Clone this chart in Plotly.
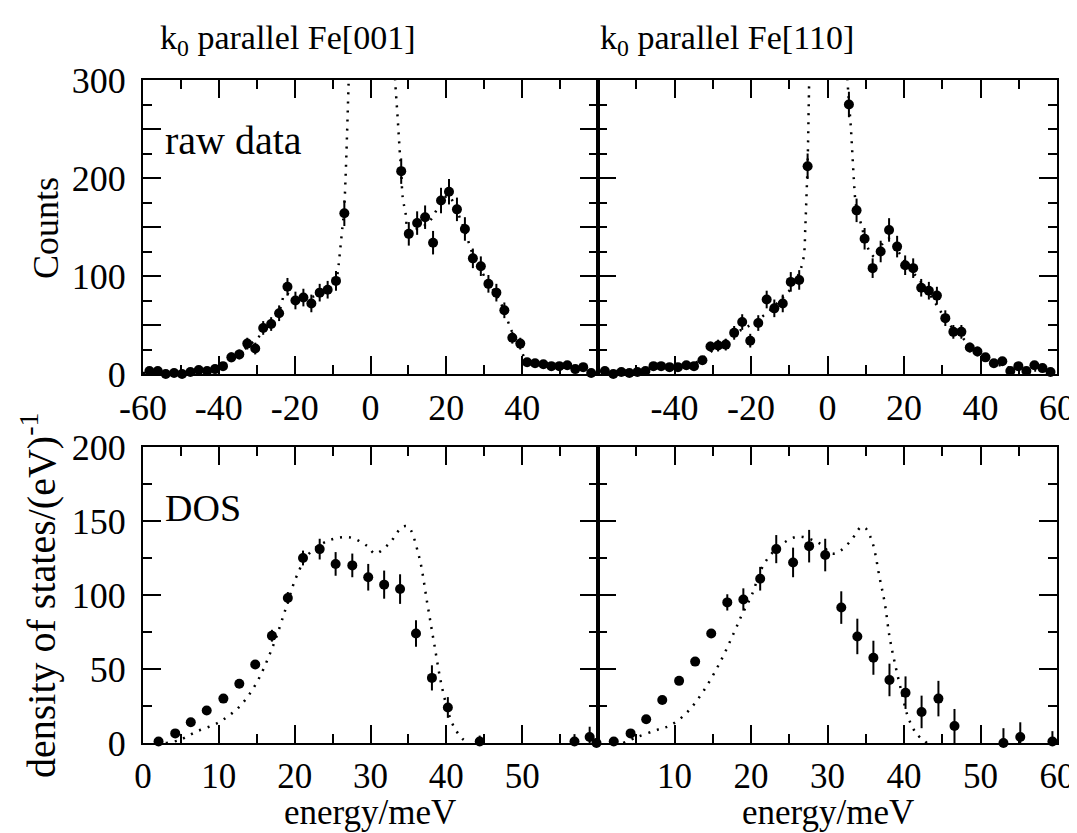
import plotly.graph_objects as go

# ---------------- data: raw counts, k0 || Fe[001] ----------------
raw001_e = [-58.3, -56.1, -54.0, -51.8, -49.7, -47.5, -45.3, -43.1, -41.0, -38.9, -36.7, -34.6,
            -32.5, -30.4, -28.3, -26.2, -24.1, -21.9, -19.8, -17.7, -15.6, -13.4, -11.3, -9.1, -6.9,
            8.1, 10.1, 12.3, 14.4, 16.5, 18.6, 20.7, 22.8, 24.9, 27.0, 29.1, 31.1, 33.2, 35.3,
            37.4, 39.5, 41.3, 43.4, 45.6, 47.7, 49.8, 51.9, 54.0, 56.1, 58.2]
raw001_c = [3, 3, 0, 1, 0, 2, 4, 3, 5, 8, 17, 20, 31, 26, 47, 51, 62, 89, 75, 78, 72, 83, 86, 95, 164,
            207, 143, 154, 160, 134, 177, 186, 168, 148, 118, 110, 92, 83, 65, 37, 31,
            12, 11, 10, 8, 8, 9, 5, 7, 1]
raw001_err = [3, 3, 3, 3, 3, 3, 3, 3, 3, 4, 5, 5, 6, 6, 7, 7, 8, 9, 9, 9, 9, 9, 9, 10, 13,
              13, 12, 12, 12, 12, 13, 13, 12, 12, 10, 10, 9, 9, 8, 6, 6, 3, 3, 3, 3, 3, 3, 3, 3, 3]
fit001_left_e = [-60, -55, -50, -45, -42, -39, -36, -33, -30, -27, -24, -22.5, -21, -19, -16, -13,
                 -11, -9.1, -8.6, -8.2, -7.4, -7.0, -6.6, -6.2, -5.8, -5.6]
fit001_left_c = [1, 1, 2, 3, 5, 9, 17, 26, 36, 48, 65, 82, 80, 76, 78, 82, 88, 95, 105, 119, 150,
                 165, 198, 243, 294, 320]
fit001_right_e = [6.3, 6.5, 7.2, 7.7, 8.1, 8.5, 9.3, 9.9, 11, 13, 14.5, 16, 17.5, 19, 20.5, 22,
                  23.5, 25, 27, 29, 31, 33, 35, 37, 38.5, 40, 41, 43, 46, 50, 54, 60]
fit001_right_c = [320, 300, 259, 228, 207, 180, 163, 146, 145, 150, 152, 158, 168, 178, 182, 174,
                  160, 145, 122, 107, 93, 82, 67, 46, 34, 22, 13, 10, 9, 7, 5, 2]

# ---------------- data: raw counts, k0 || Fe[110] ----------------
raw110_e = [-58.2, -56.0, -53.9, -51.8, -49.7, -47.6, -45.5, -43.5, -41.3, -39.1, -36.9, -34.9,
            -32.7, -30.6, -28.6, -26.6, -24.4, -22.3, -20.2, -18.1, -15.9, -13.9, -11.7, -9.6,
            -7.4, -5.2,
            5.6, 7.6, 9.7, 11.8, 13.9, 16.1, 18.2, 20.3, 22.4, 24.5, 26.5, 28.6, 30.8, 32.9, 35.0,
            37.2, 39.2, 41.3, 43.5, 45.7, 47.8, 49.9, 52.0, 54.1, 56.2, 58.3]
raw110_c = [3, 0, 2, 1, 2, 3, 8, 8, 7, 7, 9, 8, 14, 28, 29, 30, 42, 53, 34, 52, 76, 67, 72, 94, 96,
            212,
            275, 167, 138, 108, 125, 147, 130, 111, 108, 88, 85, 80, 57, 43, 43, 27, 23, 17, 11,
            13, 3, 8, 3, 9, 6, 2]
raw110_err = [3, 3, 3, 3, 3, 3, 3, 3, 3, 3, 3, 3, 4, 5, 6, 6, 7, 8, 7, 8, 9, 9, 9, 10, 10, 13,
              13, 12, 11, 10, 11, 12, 11, 10, 10, 9, 9, 9, 8, 7, 7, 5, 5, 4, 3, 3, 3, 3, 3, 3, 3, 3]
fit110_left_e = [-60, -55, -50, -45, -40, -36, -33, -30, -27, -24, -21, -18, -15, -12, -10, -8,
                 -7.1, -6.2, -5.8, -5.5, -5.2, -4.9, -4.7]
fit110_left_c = [2, 3, 4, 5, 6, 9, 15, 24, 33, 42, 48, 56, 65, 77, 85, 98, 106, 120, 150, 181,
                 215, 276, 320]
fit110_right_e = [5.0, 5.3, 5.6, 6.1, 6.5, 6.9, 7.4, 8.7, 10.9, 12.6, 14.4, 16.1, 19.2, 21.8, 24.0,
                  27.1, 29.7, 32.4, 35.0, 37.6, 40.3, 43.4, 50, 60]
fit110_right_c = [320, 295, 278, 252, 225, 198, 174, 154, 126, 119, 133, 138, 121, 106, 96, 79, 63,
                  48, 38, 28, 18, 11, 5, 3]

# ---------------- data: density of states, Fe[001] ----------------
dos001_e = [2.05, 4.25, 6.3, 8.4, 10.6, 12.7, 14.8, 17.0, 19.1, 21.1, 23.3, 25.4, 27.6, 29.7, 31.8,
            33.9, 36.0, 38.1, 40.2, 44.4, 56.9, 58.9, 59.8]
dos001_g = [1, 6.5, 14, 22, 30, 40, 53, 72.5, 98, 125, 131, 121, 120, 112, 107, 104, 74, 44, 24, 1,
            1, 4, 0]
dos001_err = [1, 1, 1, 1, 1, 2, 2, 4, 4, 5, 7, 8, 8, 9, 9.5, 10, 9, 8.5, 7, 4, 5, 7, 3]
dosfit001_e = [3, 4.8, 7, 10, 12.7, 14.9, 17.1, 18.9, 20.2, 21.9, 24.6, 27.2, 29.6, 30.6, 32.5, 34.2,
               35, 36.4, 37.5, 38.4, 39.5, 40.8, 42.1, 43]
dosfit001_g = [0, 2, 7.6, 14, 24.5, 40, 65, 92, 112, 128, 137, 139, 133, 128, 135, 146, 146, 126,
               94, 67, 36, 13, 3, 0]

# ---------------- data: density of states, Fe[110] ----------------
dos110_e = [2.06, 4.26, 6.3, 8.4, 10.6, 12.7, 14.8, 16.9, 19.0, 21.2, 23.3, 25.5, 27.6, 29.7, 31.8,
            33.9, 36.0, 38.1, 40.2, 42.3, 44.5, 46.6, 53.0, 55.2, 59.4]
dos110_g = [1, 6.5, 16, 29, 42, 55, 74, 95, 97, 111, 131, 122, 133, 127, 91.5, 72, 57.6, 42.6, 34,
            21, 30, 11.5, 0, 4, 1]
dos110_err = [1, 1, 1, 1, 1, 2, 3, 5.5, 7.5, 8, 9.5, 10, 11, 11, 11, 12, 11.5, 11, 11, 11, 12, 11.5,
              10, 10, 7]
dosfit110_e = [3.3, 5.1, 7.8, 9.5, 11.7, 13.9, 16.1, 17.9, 18.8, 20.1, 21.4, 22.7, 24.5, 26.3, 28.9,
               30.6, 31.7, 33.1, 34.4, 35.0, 35.9, 36.8, 37.5, 38.1, 38.8, 39.7, 40.5, 41.6, 43]
dosfit110_g = [0, 4, 9, 12, 21, 36, 56, 76, 86.5, 100, 118, 128, 136, 139.5, 135, 128, 130, 137, 146,
               145, 135, 112, 94, 72, 54, 34, 18, 6.5, 0]

# ---------------- tick labels ----------------
top_left_x_vals = [-60, -40, -20, 0, 20, 40]
top_left_x_text = ["-60", "-40", "-20", "0", "20", "40"]
top_right_x_vals = [-40, -20, 0, 20, 40, 60]
top_right_x_text = ["-40", "-20", "0", "20", "40", "60"]
top_y_vals = [0, 50, 100, 150, 200, 250, 300]
top_y_text = ["0", "", "100", "", "200", "", "300"]
bot_left_x_vals = [0, 10, 20, 30, 40, 50]
bot_left_x_text = ["0", "10", "20", "30", "40", "50"]
bot_right_x_vals = [10, 20, 30, 40, 50, 60]
bot_right_x_text = ["10", "20", "30", "40", "50", "60"]
bot_y_vals = [0, 50, 100, 150, 200]
bot_y_text = ["0", "50", "100", "150", "200"]

FONT = "Liberation Serif"
BLACK = "black"

fig = go.Figure()


def add_points(x, y, err, xa, ya):
    fig.add_trace(go.Scatter(
        x=x, y=y, mode="markers", xaxis=xa, yaxis=ya, cliponaxis=False,
        marker=dict(color=BLACK, size=10),
        error_y=dict(type="data", array=err, visible=True, width=0, thickness=2, color=BLACK),
        showlegend=False, hoverinfo="skip"))


def add_curve(x, y, xa, ya):
    fig.add_trace(go.Scatter(
        x=x, y=y, mode="lines", xaxis=xa, yaxis=ya, line_shape="spline",
        line=dict(color=BLACK, width=2.5, dash="2px,7px"),
        showlegend=False, hoverinfo="skip"))


add_curve(fit001_left_e, fit001_left_c, "x", "y")
add_curve(fit001_right_e, fit001_right_c, "x", "y")
add_points(raw001_e, raw001_c, raw001_err, "x", "y")

add_curve(fit110_left_e, fit110_left_c, "x2", "y2")
add_curve(fit110_right_e, fit110_right_c, "x2", "y2")
add_points(raw110_e, raw110_c, raw110_err, "x2", "y2")

add_curve(dosfit001_e, dosfit001_g, "x3", "y3")
add_points(dos001_e, dos001_g, dos001_err, "x3", "y3")

add_curve(dosfit110_e, dosfit110_g, "x4", "y4")
add_points(dos110_e, dos110_g, dos110_err, "x4", "y4")

# the page body adds an 8px offset; size and place everything in page pixels
OFF = 8
W, H = 1077 - OFF, 833 - OFF


def px_x(p):
    return (p - OFF) / W


def px_y(p):
    return 1 - (p - OFF) / H


xl = [px_x(143), px_x(598)]
xr = [px_x(598), px_x(1057)]
yt = [px_y(374), px_y(80)]
yb = [px_y(743), px_y(447)]


def axis(domain, rng, vals, text, minor_dt, anchor, show_labels=True, label_size=36):
    return dict(
        domain=domain, range=rng, anchor=anchor, automargin=False,
        showgrid=False, zeroline=False,
        showline=True, linecolor=BLACK, linewidth=2, mirror="allticks",
        ticks="inside", ticklen=18, tickwidth=2, tickcolor=BLACK,
        tickmode="array", tickvals=vals, ticktext=text,
        showticklabels=show_labels,
        tickfont=dict(family=FONT, size=label_size, color=BLACK),
        minor=dict(tickmode="linear", tick0=0, dtick=minor_dt, ticks="inside",
                   ticklen=9, tickwidth=2, tickcolor=BLACK, showgrid=False),
    )


fig.update_layout(
    template="none",
    width=W, height=H, autosize=False,
    margin=dict(l=0, r=0, t=0, b=0, pad=0),
    paper_bgcolor="white", plot_bgcolor="white",
    font=dict(family=FONT, size=36, color=BLACK),
    xaxis=axis(xl, [-60, 60], top_left_x_vals, top_left_x_text, 10, "y"),
    yaxis=axis(yt, [0, 300], top_y_vals, top_y_text, 25, "x"),
    xaxis2=axis(xr, [-60, 60], top_right_x_vals, top_right_x_text, 10, "y2"),
    yaxis2=axis(yt, [0, 300], top_y_vals, top_y_text, 25, "x2", show_labels=False),
    xaxis3=axis(xl, [0, 60], bot_left_x_vals, bot_left_x_text, 5, "y3", label_size=35),
    yaxis3=axis(yb, [0, 200], bot_y_vals, bot_y_text, 25, "x3"),
    xaxis4=axis(xr, [0, 60], bot_right_x_vals, bot_right_x_text, 5, "y4", label_size=35),
    yaxis4=axis(yb, [0, 200], bot_y_vals, bot_y_text, 25, "x4", show_labels=False),
)

for ax in ["yaxis", "yaxis3"]:
    fig.layout[ax].ticklabelstandoff = 8
for ax in ["xaxis", "xaxis2", "xaxis3", "xaxis4"]:
    fig.layout[ax].ticklabelstandoff = 1


def note(text, x, y, xanchor="left", yanchor="middle", angle=0, size=36):
    fig.add_annotation(text=text, x=px_x(x), y=px_y(y), xref="paper", yref="paper",
                       xanchor=xanchor, yanchor=yanchor, textangle=angle, showarrow=False,
                       font=dict(family=FONT, size=size, color=BLACK))


note("k<sub>0</sub> parallel Fe[001]", 158, 40, size=34)
note("k<sub>0</sub> parallel Fe[110]", 598, 40, size=34)
note("raw data", 163, 140, size=40)
note("DOS", 163, 508, size=38)
note("Counts", 46, 228, xanchor="center", angle=-90)
note("density of states/(eV)<sup>-1</sup>", 38, 596, xanchor="center", angle=-90, size=40)
note("energy/meV", 370, 812, xanchor="center", size=35)
note("energy/meV", 828, 812, xanchor="center", size=35)

fig.write_html("out.html")
